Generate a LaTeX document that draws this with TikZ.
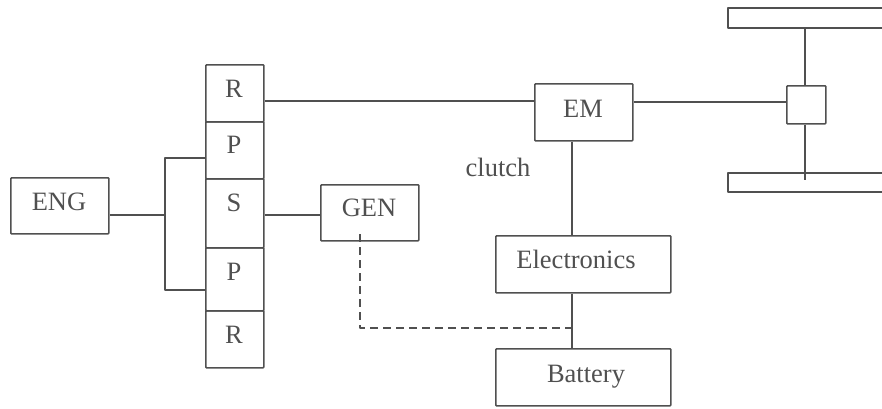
\documentclass[tikz,border=0pt]{standalone}
\usepackage{fontspec}
\setmainfont{Liberation Serif}
\definecolor{ink}{HTML}{505050}
\tikzset{
  box/.style={draw=ink,line width=1.6pt,rounded corners=0.8pt,inner sep=0pt,anchor=north west},
  wire/.style={draw=ink,line width=1.4pt,line join=round},
  dash wire/.style={wire,dash pattern=on 8pt off 5pt},
  lab/.style={text=ink,font=\fontsize{26.5}{28}\selectfont,inner sep=0pt,anchor=base}
}
\begin{document}
\begin{tikzpicture}[x=1pt,y=-1pt]
\useasboundingbox (0,0) rectangle (882,408);
\node[box,minimum width=98pt,minimum height=56pt] (eng) at (10,177) {};
\node[lab] at (59,210) {ENG};
\node[box,minimum width=58pt,minimum height=57pt] (r1) at (205,64) {};
\node[lab] at (234,97) {R};
\node[box,minimum width=58pt,minimum height=57pt] (p1) at (205,121) {};
\node[lab] at (234,153) {P};
\node[box,minimum width=58pt,minimum height=69pt] (s) at (205,178) {};
\node[lab] at (234,211) {S};
\node[box,minimum width=58pt,minimum height=63pt] (p2) at (205,247) {};
\node[lab] at (234,280) {P};
\node[box,minimum width=58pt,minimum height=57pt] (r2) at (205,310) {};
\node[lab] at (234,343) {R};
\node[box,minimum width=98pt,minimum height=56pt] (gen) at (320,184) {};
\node[lab] at (369,216) {GEN};
\node[box,minimum width=98pt,minimum height=57pt] (em) at (534,83) {};
\node[lab] at (583,117) {EM};
\node[box,minimum width=175pt,minimum height=57pt] (el) at (495,235) {};
\node[lab] at (576,268) {Electronics};
\node[box,minimum width=175pt,minimum height=57pt] (bat) at (495,348) {};
\node[lab] at (586,382) {Battery};
\node[box,minimum width=39pt,minimum height=38pt] (diff) at (786,85) {};
\node[lab] (cl) at (498,176) {clutch};
\draw[wire] (882,8) -- (728,8) -- (728,28) -- (882,28);
\draw[wire] (882,173) -- (728,173) -- (728,192) -- (882,192);
\coordinate (axT) at (805,28);
\coordinate (axB) at (805,180);
\coordinate (brT) at (165,158);
\coordinate (brM) at (165,215);
\coordinate (brB) at (165,290);
\coordinate (gd) at (360,234);
\coordinate (gc) at (360,328);
\coordinate (bj) at (572,328);
\draw[wire] (axT) -- (diff.north -| axT);
\draw[wire] (diff.south -| axB) -- (axB);
\draw[wire] (em.east |- 0,102) -- (diff.west |- 0,102);
\draw[wire] (r1.east |- 0,101) -- (em.west |- 0,101);
\draw[wire] (s.east |- 0,215) -- (gen.west |- 0,215);
\draw[wire] (eng.east |- brM) -- (brM);
\draw[wire] (p1.west |- brT) -- (brT) -- (brB) -- (p2.west |- brB);
\draw[wire] (em.south -| bj) -- (el.north -| bj);
\draw[wire] (el.south -| bj) -- (bat.north -| bj);
\draw[dash wire] (gd) -- (gc) -- (bj);
\end{tikzpicture}
\end{document}
